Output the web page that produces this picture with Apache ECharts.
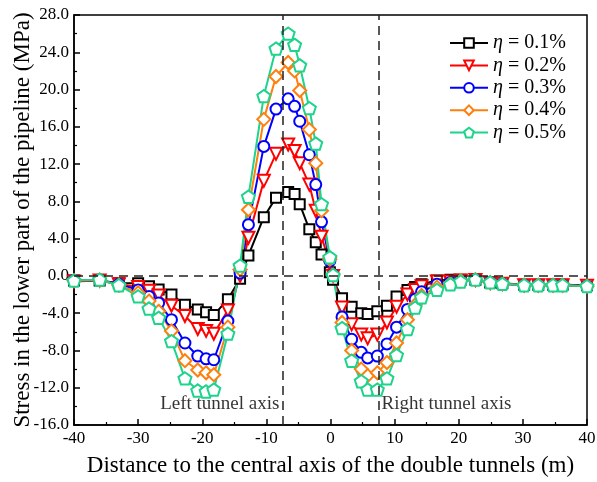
<!DOCTYPE html>
<html>
<head>
<meta charset="utf-8">
<script src="https://cdn.jsdelivr.net/npm/echarts@6/dist/echarts.min.js"></script>
<style>
  html, body { margin: 0; padding: 0; background: #fff; }
  #main { width: 597px; height: 482px; }
</style>
</head>
<body>
<div id="main"></div>
<script>
// distance (m) of the monitoring points
const distance = [-40, -36, -33, -30, -28.3, -26.8, -24.8, -22.7, -20.7, -19.4, -18.2, -16, -14.1, -12.8, -10.4,
  -8.5, -6.6, -5.6, -4.8, -3.3, -2.3, -1.4, -0.1, 0.4, 1.8, 3.3, 4.8, 5.8, 7.3, 8.8, 10.3, 12, 13.2, 14.2, 16.6,
  18.7, 20.3, 22.6, 24.9, 26.8, 30.2, 32.4, 34.7, 36.2, 40];

const eta01 = [-0.5, -0.5, -0.8, -0.8, -1.1, -1.45, -2.0, -3.1, -3.6, -3.9, -4.2, -2.5, -0.3, 2.2, 6.3,
  8.4, 9.0, 8.8, 7.7, 5.0, 3.6, 2.3, 0.4, -0.4, -2.4, -3.3, -4.0, -4.1, -3.8, -3.2, -2.2, -1.5, -1.2, -0.9, -0.5,
  -0.4, -0.4, -0.4, -0.7, -0.8, -0.95, -0.95, -0.95, -0.95, -1.0];
const eta02 = [-0.6, -0.5, -0.9, -1.2, -1.6, -2.1, -3.2, -4.3, -5.7, -5.9, -6.2, -3.7, 0.0, 4.1, 10.2,
  13.1, 14.1, 13.4, 12.1, 9.8, 7.0, 4.2, 1.3, 0.0, -3.4, -5.2, -6.3, -6.7, -6.3, -5.0, -3.3, -2.0, -1.5, -1.1, -0.6,
  -0.6, -0.5, -0.45, -0.75, -0.85, -1.0, -1.0, -1.0, -1.0, -1.05];
const eta03 = [-0.5, -0.45, -0.9, -1.5, -2.2, -2.9, -4.7, -7.2, -8.6, -8.9, -9.0, -4.85, 0.3, 5.5, 13.9,
  17.9, 19.0, 18.2, 16.6, 13.0, 9.8, 5.8, 1.6, 0.1, -4.4, -6.8, -8.2, -8.8, -8.6, -7.3, -5.5, -3.6, -2.5, -1.7, -0.9,
  -0.7, -0.5, -0.4, -0.7, -0.85, -1.0, -1.0, -1.0, -1.0, -1.1];
const eta04 = [-0.5, -0.45, -1.0, -1.8, -2.7, -3.8, -5.9, -9.1, -10.1, -10.4, -10.6, -5.5, 0.7, 7.1, 16.8,
  21.4, 22.9, 22.0, 19.9, 15.7, 12.1, 7.0, 1.8, 0.1, -5.0, -8.0, -10.0, -10.7, -10.4, -9.3, -7.2, -4.7, -3.1, -2.1, -1.2,
  -0.8, -0.5, -0.4, -0.7, -0.85, -1.0, -1.0, -1.0, -1.0, -1.1];
const eta05 = [-0.5, -0.4, -1.0, -2.2, -3.5, -4.5, -7.0, -11.0, -12.3, -12.4, -12.2, -6.2, 1.1, 8.5, 19.3,
  24.4, 26.0, 24.8, 22.6, 18.0, 14.2, 7.7, 2.0, 0.1, -5.6, -9.1, -11.3, -12.2, -12.2, -11.0, -8.5, -5.7, -3.4, -2.3, -1.5,
  -0.9, -0.6, -0.4, -0.7, -0.85, -1.0, -1.0, -1.0, -1.0, -1.1];

const seriesNames = ['η = 0.1%', 'η = 0.2%', 'η = 0.3%', 'η = 0.4%', 'η = 0.5%'];
const tunnelAxes = [-7.5, 7.5];
const tunnelLabels = ['Left tunnel axis', 'Right tunnel axis'];
const labelLevel = -13.8;

const FONT = '"Liberation Serif", "Times New Roman", serif';
const pentagon = 'path://M0,-1L0.951,-0.309L0.588,0.809L-0.588,0.809L-0.951,-0.309Z';

function pairs(ys) {
  return distance.map((x, i) => [x, ys[i]]);
}

function makeSeries(name, ys, color, symbol, size, rotate) {
  return {
    name: name,
    type: 'line',
    data: pairs(ys),
    symbol: symbol,
    symbolSize: size,
    symbolRotate: rotate || 0,
    symbolKeepAspect: true,
    showAllSymbol: true,
    lineStyle: { color: color, width: 2 },
    itemStyle: { color: '#fff', borderColor: color, borderWidth: 2 },
    emphasis: { disabled: true },
    z: 3
  };
}

let myChart = echarts.init(document.getElementById('main'));

myChart.setOption({
  animation: false,
  grid: {
    left: 74, right: 10, top: 15, bottom: 57,
    outerBoundsMode: 'none',
    containLabel: false,
    show: true, borderColor: '#000', borderWidth: 1.5
  },
  legend: {
    orient: 'vertical',
    left: 444,
    top: 28,
    itemWidth: 38,
    itemHeight: 12,
    itemGap: 2.4,
    data: seriesNames,
    formatter: function (name) {
      return '{i|η}' + name.slice(1);
    },
    textStyle: {
      fontFamily: FONT, fontSize: 20, lineHeight: 20, color: '#000',
      rich: { i: { fontFamily: FONT, fontSize: 20, lineHeight: 20, fontStyle: 'italic', color: '#000' } }
    }
  },
  xAxis: {
    type: 'value',
    min: -40, max: 40, interval: 10,
    name: 'Distance to the central axis of the double tunnels (m)',
    nameLocation: 'middle',
    nameGap: 29,
    nameMoveOverlap: false,
    nameTextStyle: { fontFamily: FONT, fontSize: 23, color: '#000' },
    axisLine: { onZero: false, lineStyle: { color: '#000', width: 1.5 } },
    axisTick: { inside: true, length: 6, lineStyle: { color: '#000', width: 1.5 } },
    minorTick: { show: true, splitNumber: 2, length: 3, lineStyle: { color: '#000', width: 1.2 } },
    axisLabel: { fontFamily: FONT, fontSize: 17, color: '#000', margin: 5 },
    splitLine: { show: false }
  },
  yAxis: {
    type: 'value',
    min: -16, max: 28, interval: 4,
    name: 'Stress in the lower part of the pipeline (MPa)',
    nameLocation: 'middle',
    nameGap: 40,
    nameMoveOverlap: false,
    nameTextStyle: { fontFamily: FONT, fontSize: 23, color: '#000' },
    axisLine: { onZero: false, lineStyle: { color: '#000', width: 1.5 } },
    axisTick: { inside: true, length: 6, lineStyle: { color: '#000', width: 1.5 } },
    minorTick: { show: true, splitNumber: 2, length: 3, lineStyle: { color: '#000', width: 1.2 } },
    axisLabel: {
      fontFamily: FONT, fontSize: 17, color: '#000', margin: 5,
      formatter: function (v) { return v.toFixed(1); }
    },
    splitLine: { show: false }
  },
  series: [
    {
      name: 'guides',
      type: 'scatter',
      symbolSize: 0,
      silent: true,
      z: 1,
      data: tunnelAxes.map((x, i) => ({
        value: [x, labelLevel],
        label: {
          show: true,
          formatter: tunnelLabels[i],
          position: i === 0 ? 'left' : 'right',
          distance: 3,
          fontFamily: FONT, fontSize: 19, color: '#000'
        }
      })),
      markLine: {
        silent: true,
        symbol: 'none',
        label: { show: false },
        lineStyle: { color: '#222', width: 1.5, type: [9, 6] },
        data: [{ yAxis: 0 }, { xAxis: tunnelAxes[0] }, { xAxis: tunnelAxes[1] }]
      }
    },
    makeSeries(seriesNames[0], eta01, '#000000', 'rect', 10),
    makeSeries(seriesNames[1], eta02, '#ff0000', 'triangle', 12, 180),
    makeSeries(seriesNames[2], eta03, '#0000ff', 'circle', 11),
    makeSeries(seriesNames[3], eta04, '#ff7f0e', 'diamond', 13),
    makeSeries(seriesNames[4], eta05, '#1ed38c', pentagon, 13)
  ]
});
</script>
</body>
</html>
